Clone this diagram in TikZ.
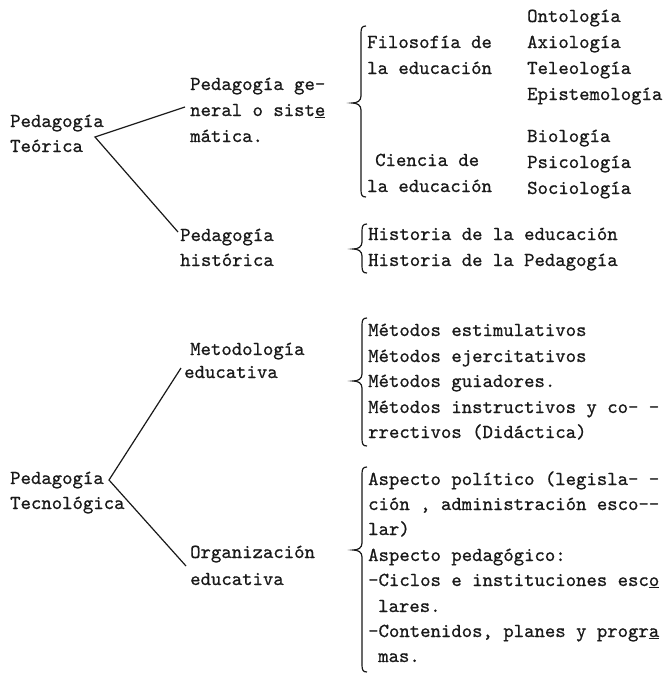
\documentclass[tikz,border=0pt]{standalone}
\usepackage{fontspec}
\newfontfamily\tw{lmmono10-regular}[Extension=.otf, FakeBold=0.7]
\newcommand\tybrace[4]{%
  \draw[brc] (#1+5,#2) .. controls (#1+1,#2) and (#1,#2+2) .. (#1,#2+7)
    -- (#1,#3-7) .. controls (#1,#3-2) and (#1-4,#3) .. (#1-9,#3)
    .. controls (#1-4,#3) and (#1,#3+2) .. (#1,#3+7)
    -- (#1,#4-7) .. controls (#1,#4-2) and (#1+1,#4) .. (#1+5,#4);}
\begin{document}
\begin{tikzpicture}[x=1pt,y=-1pt,
  txt/.style={anchor=base west, inner sep=0pt, text=black!90,
    font=\tw\fontsize{19.8}{22}\selectfont},
  conn/.style={line width=1.2pt, black!90},
  brc/.style={line width=1.2pt, black!90}]
\useasboundingbox[fill=white] (0,0) rectangle (665,678);

% ---- Pedagogia Teorica ----
\node[txt] (t1) at (10,127) {Pedagogía};
\node[txt] (t2) at (10,152) {Teórica};
\coordinate (ta) at (95,137);

\node[txt] (g1) at (190,90) {Pedagogía ge-};
\node[txt] (g2) at (190,116) {neral o sist\underline{e}};
\node[txt] (g3) at (190,142) {mática.};
\coordinate (ge) at (185,107);

\node[txt] (h1) at (180,241) {Pedagogía};
\node[txt] (h2) at (180,266) {histórica};
\coordinate (he) at (178,232);

\draw[conn] (ge) -- (ta) -- (he);

% Filosofia / Ciencia
\tybrace{361}{26}{103}{197}
\node[txt] (f1) at (367,48) {Filosofía de};
\node[txt] (f2) at (367,74) {la educación};
\node[txt] (c1) at (375,166) {Ciencia de};
\node[txt] (c2) at (367,192) {la educación};

\node[txt] (o1) at (527,22) {Ontología};
\node[txt] (o2) at (527,48) {Axiología};
\node[txt] (o3) at (527,74) {Teleología};
\node[txt] (o4) at (527,100) {Epistemología};
\node[txt] (b1) at (527,142) {Biología};
\node[txt] (b2) at (527,168) {Psicología};
\node[txt] (b3) at (527,194) {Sociología};

% Historia
\tybrace{362}{224}{249}{273}
\node[txt] (hi1) at (368,240) {Historia de la educación};
\node[txt] (hi2) at (368,266) {Historia de la Pedagogía};

% ---- Pedagogia Tecnologica ----
\node[txt] (k1) at (10,484) {Pedagogía};
\node[txt] (k2) at (10,509) {Tecnológica};
\coordinate (ka) at (109,480);

\node[txt] (m1) at (190,355) {Metodología};
\node[txt] (m2) at (184,378) {educativa};
\coordinate (me) at (181,368);

\node[txt] (r1) at (190,558) {Organización};
\node[txt] (r2) at (190,585) {educativa};
\coordinate (re) at (186,566);

\draw[conn] (me) -- (ka) -- (re);

% Metodos
\tybrace{362}{318}{381}{446}
\node[txt] (mt1) at (368,336) {Métodos estimulativos};
\node[txt] (mt2) at (368,362) {Métodos ejercitativos};
\node[txt] (mt3) at (368,387) {Métodos guiadores.};
\node[txt] (mt4) at (368,413) {Métodos instructivos y co- -};
\node[txt] (mt5) at (368,438) {rrectivos (Didáctica)};

% Aspectos
\tybrace{362}{467}{550}{672}
\node[txt] (a1) at (368,485) {Aspecto político (legisla- -};
\node[txt] (a2) at (368,510) {ción , administración esco--};
\node[txt] (a3) at (368,535) {lar)};
\node[txt] (a4) at (368,561) {Aspecto pedagógico:};
\node[txt] (a5) at (368,586) {-Ciclos e instituciones esc\underline{o}};
\node[txt] (a6) at (378,612) {lares.};
\node[txt] (a7) at (368,637) {-Contenidos, planes y progr\underline{a}};
\node[txt] (a8) at (378,662) {mas.};
\end{tikzpicture}
\end{document}
